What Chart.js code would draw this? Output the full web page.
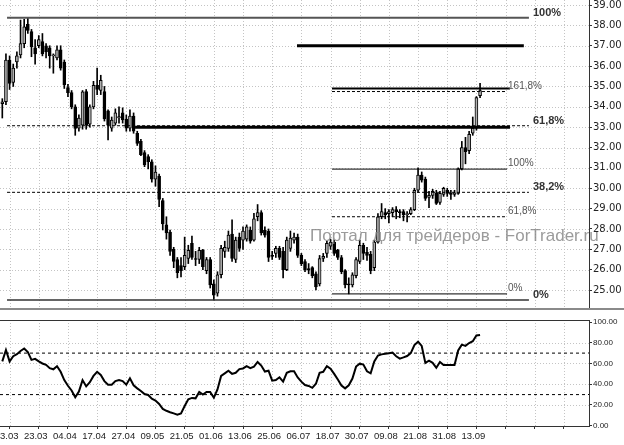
<!DOCTYPE html>
<html><head><meta charset="utf-8">
<script src="https://cdn.jsdelivr.net/npm/chart.js@4/dist/chart.umd.min.js"></script>
<style>
html,body{margin:0;padding:0;background:#fff;}
#wrap{position:relative;width:624px;height:445px;overflow:hidden;background:#fff;}
canvas{position:absolute;left:0;display:block;}
#c1{top:0;}
#c2{top:310px;}
</style></head><body>
<div id="wrap"><canvas id="c1" width="624" height="310"></canvas><canvas id="c2" width="624" height="135"></canvas></div>
<script>
// ---------- DATA ----------
const openP = [
34.15,34.25,36.30,35.20,36.20,36.55,37.10,38.05,37.70,36.90,
37.00,37.20,37.00,36.90,36.50,36.40,36.80,36.20,34.95,34.70,
34.00,32.95,33.10,34.75,33.15,34.00,35.05,34.80,34.75,33.80,
32.95,33.20,33.45,33.70,33.40,32.95,33.55,32.70,32.30,31.75,
31.55,31.30,30.45,30.60,29.40,28.20,27.85,27.00,26.50,26.20,
26.15,26.55,27.30,26.55,26.50,26.95,25.95,26.50,25.30,24.85,
25.75,26.90,27.05,27.75,26.50,27.60,27.45,27.50,27.95,27.45,
28.60,28.80,27.95,27.90,26.70,26.80,27.05,26.90,26.00,27.05,
27.45,27.60,26.70,26.40,26.05,26.10,25.80,25.30,26.55,26.80,
27.15,27.35,26.95,26.60,25.95,25.30,25.25,25.70,26.40,27.20,
26.85,26.75,26.10,27.35,28.60,28.80,28.75,28.80,28.95,28.85,
28.85,28.70,28.75,28.95,29.90,30.65,30.45,29.55,29.65,29.75,
29.30,29.70,29.90,29.75,29.70,29.75,30.95,32.00,31.85,32.70,
32.95,34.55];
const highP = [
34.40,36.60,36.50,36.10,36.70,38.26,38.30,38.37,37.80,37.30,
37.50,37.60,37.10,37.00,36.60,37.00,37.00,36.30,35.10,34.80,
34.10,33.60,34.80,34.85,34.10,35.25,35.90,35.55,35.00,33.85,
33.50,33.90,34.00,33.95,33.60,33.85,33.70,32.80,32.40,31.85,
31.65,31.40,31.10,30.70,29.50,28.60,27.95,27.10,26.60,26.60,
27.60,27.20,27.65,26.90,27.10,27.00,26.60,26.60,25.50,25.90,
27.20,27.40,27.90,28.45,27.60,27.80,28.10,28.20,28.10,28.77,
29.20,28.90,28.10,28.00,26.90,27.15,27.15,27.10,27.60,27.90,
27.80,27.75,26.80,26.50,26.30,26.15,25.90,26.70,26.80,27.40,
27.50,27.45,27.00,26.70,26.00,25.60,25.85,26.60,27.45,27.30,
27.10,26.90,27.45,28.75,29.25,29.00,28.95,29.05,29.10,28.95,
28.95,28.85,29.05,30.00,31.00,30.80,30.55,29.85,29.95,29.90,
29.85,30.05,30.00,29.90,29.90,31.00,32.30,32.50,32.80,33.50,
34.50,35.15];
const lowP = [
33.45,34.10,34.85,35.00,35.90,36.40,36.90,37.60,36.46,36.10,
36.90,36.50,36.40,35.90,35.65,36.30,35.80,34.90,34.50,33.90,
32.60,32.80,32.90,32.90,33.00,33.90,34.60,34.60,33.30,32.37,
32.80,33.10,33.20,33.20,32.80,32.80,32.70,32.10,31.60,31.06,
30.95,30.30,30.10,29.10,27.95,27.50,26.70,26.10,25.60,25.65,
26.00,26.30,26.50,26.20,26.30,26.00,25.80,25.10,24.51,24.70,
25.60,26.60,26.90,26.40,26.35,26.90,27.00,27.40,27.30,27.40,
28.40,27.70,27.60,26.40,26.50,26.60,26.50,25.60,25.95,26.90,
27.30,26.60,26.20,25.90,25.80,25.60,25.00,25.20,26.40,26.60,
27.00,26.70,26.50,25.80,25.10,24.81,25.15,25.60,26.30,26.50,
26.45,25.80,25.95,27.30,28.50,28.50,28.30,28.60,28.50,28.55,
28.40,28.35,28.70,28.90,29.80,30.30,29.40,29.05,29.50,29.20,
29.20,29.60,29.60,29.45,29.60,29.70,30.90,31.20,31.70,32.60,
32.85,34.45];
const closeP = [
34.25,36.30,35.15,35.90,36.50,37.10,37.93,37.75,36.95,36.60,
37.30,36.60,36.70,36.50,36.55,36.80,35.90,35.07,34.70,34.00,
32.94,33.45,34.74,33.10,34.00,35.05,34.85,35.30,33.40,33.10,
33.35,33.70,33.52,33.35,32.95,33.55,32.80,32.20,31.65,31.15,
31.30,30.45,30.80,29.45,28.25,27.80,26.90,26.40,25.85,25.95,
26.70,26.95,26.60,26.50,26.95,26.15,26.50,25.25,24.75,25.75,
27.05,27.10,27.70,26.55,27.45,27.05,27.90,28.10,27.40,28.50,
28.80,27.80,27.70,26.60,26.65,27.05,26.60,26.00,27.45,27.55,
27.60,26.70,26.30,26.00,25.98,25.70,25.15,26.55,26.65,27.30,
27.35,26.80,26.60,25.90,25.25,25.25,25.75,26.50,27.20,26.80,
26.70,25.95,27.35,28.60,28.85,28.70,28.85,28.95,28.85,28.80,
28.70,28.75,28.95,29.90,30.65,30.40,29.50,29.65,29.85,29.25,
29.75,30.00,29.75,29.70,29.78,30.95,32.00,31.80,32.65,32.95,
34.45,34.80];
const rsiVals = [
62,73,62,67,69,72,74.5,71,63.5,64.5,
62,60,58.7,55.5,54.4,57.3,52,44,38.5,34,
27.5,33,44,38,42,48,52,49,43,39.5,
39.5,43,44,43,39.5,45.7,39,36,33.5,30.5,
29.6,26,24.3,21,16.2,14.4,13,11.9,10.6,11.8,
19,25.5,26.8,26.4,32.5,30,32.5,32.5,27,35,
48,50.5,53,50,51,54.6,55.2,57.5,55.5,57,
61.5,58,52.2,53,43.4,44,46.7,42.5,51,52.5,
52.5,46.5,42.5,39.2,38.3,36.5,40.5,51,52,57.5,
55,50,44.5,38.8,36,39,45.5,57,59.8,59,
52.5,50.5,62,67.7,68.8,69.3,69.9,70.5,67,64.7,
65.9,67.2,70,77.8,81,76.9,60.6,62.7,60.6,55.9,
61.5,58.5,58.5,58.5,58.5,72.5,78.2,77,79.7,81.5,
87,87.5];
const dateLabels = ['13.03','23.03','04.04','17.04','27.04','09.05','21.05','01.06','13.06','25.06','06.07','18.07','30.07','09.08','21.08','31.08','13.09'];
const priceTicks = [25,26,27,28,29,30,31,32,33,34,35,36,37,38,39];
const rsiTicks = [0,20,40,60,80,100];
const rsiLevels = [70,30];
const bigFibLevels = [38.37,33.07,29.80,24.51];
const bigFibNames = ['100%','61,8%','38,2%','0%'];
const bigFibSpan = [1.3,144.4];
const smallFibLevels = [34.75,30.94,28.60,24.81];
const smallFibNames = ['161,8%','100%','61,8%','0%'];
const smallFibSpan = [90.4,138.4];
const hLevels = [37.00,34.90,33.00];
const hSpans = [[80.8,143.0],[90.4,139.2],[36.4,139.2]];
const watermark = 'Портал для трейдеров - ForTrader.ru';

// ---------- SCALE SETTINGS ----------
const X_MIN = -0.631, X_MAX = 160.87;
const TICK_START = 2, TICK_STEP = 8;
const P_MIN = 24.118, P_MAX = 39.246;
const R_MIN = -0.29, R_MAX = 101.93;

const BULL = '#b0b0b0', BEAR = '#000000';
const bigFibStyles = [
  {c:'#555', w:2, d:[]}, {c:'#000', w:1, d:[3,2]}, {c:'#000', w:1, d:[3,2]}, {c:'#333', w:1.5, d:[]}];
const smallFibStyles = [
  {c:'#000', w:1, d:[3,2]}, {c:'#000', w:1, d:[]}, {c:'#000', w:1, d:[3,2]}, {c:'#000', w:1, d:[]}];
const hStyles = [{c:'#000', w:3}, {c:'#000', w:2}, {c:'#000', w:3}];

function xTickValues(){ const t=[]; for(let v=TICK_START; v<=X_MAX; v+=TICK_STEP) t.push(v); return t; }

function seg(a,b,lv,st,ord){
  return {type:'line', data:[{x:a,y:lv},{x:b,y:lv}], borderColor:st.c, borderWidth:st.w,
    borderDash:st.d||[], pointRadius:0, tension:0, order:ord, clip:false};
}

const lineSets = [];
bigFibLevels.forEach((lv,i)=>lineSets.push(seg(bigFibSpan[0],bigFibSpan[1],lv,bigFibStyles[i],0)));
smallFibLevels.forEach((lv,i)=>lineSets.push(seg(smallFibSpan[0],smallFibSpan[1],lv,smallFibStyles[i],0)));
hLevels.forEach((lv,i)=>lineSets.push(seg(hSpans[i][0],hSpans[i][1],lv,hStyles[i],0)));

const bodyData = openP.map((o,i)=>({x:i, y:[o, closeP[i]]}));
const wickData = highP.map((h,i)=>({x:i, y:[lowP[i], h]}));
const bodyColors = openP.map((o,i)=> closeP[i] >= o ? BULL : BEAR);

Chart.defaults.font.family = '"Liberation Sans", Arial, sans-serif';

function drawGrid(chart, yVals){
  const {ctx, chartArea:a, scales:{x,y}} = chart;
  ctx.save();
  ctx.strokeStyle = '#c4c4c4'; ctx.lineWidth = 1; ctx.setLineDash([1,2]);
  ctx.beginPath();
  yVals.forEach(v=>{ const py = Math.round(y.getPixelForValue(v))+0.5; ctx.moveTo(a.left,py); ctx.lineTo(a.right,py); });
  xTickValues().forEach(v=>{ const px = Math.round(x.getPixelForValue(v))+0.5; ctx.moveTo(px,a.top); ctx.lineTo(px,a.bottom); });
  ctx.stroke();
  ctx.restore();
}

const mainPlugin = {
  id:'mainDeco',
  beforeDatasetsDraw(chart){ drawGrid(chart, priceTicks); },
  afterDatasetsDraw(chart){
    const {ctx, scales:{x,y}} = chart;
    ctx.save();
    ctx.textBaseline = 'alphabetic'; ctx.textAlign = 'left';
    ctx.font = 'bold 11px "Liberation Sans"'; ctx.fillStyle = '#333';
    bigFibLevels.forEach((lv,i)=>ctx.fillText(bigFibNames[i], x.getPixelForValue(bigFibSpan[1])+4, y.getPixelForValue(lv)-2));
    ctx.font = '10px "Liberation Sans"'; ctx.fillStyle = '#555';
    smallFibLevels.forEach((lv,i)=>ctx.fillText(smallFibNames[i], x.getPixelForValue(smallFibSpan[1])+1, y.getPixelForValue(lv)-3));
    ctx.restore();
  },
  afterDraw(chart){
    const {ctx, chartArea:a} = chart;
    ctx.save();
    ctx.strokeStyle = '#8a8a8a'; ctx.lineWidth = 2;
    ctx.beginPath(); ctx.moveTo(0, a.bottom+1); ctx.lineTo(chart.width, a.bottom+1); ctx.stroke();
    ctx.font = '17px "Liberation Sans"'; ctx.fillStyle = 'rgba(130,130,130,0.8)';
    ctx.textBaseline = 'middle'; ctx.textAlign = 'left';
    ctx.fillText(watermark, 310, 236);
    ctx.restore();
  }
};

const rsiPlugin = {
  id:'rsiDeco',
  beforeDatasetsDraw(chart){ drawGrid(chart, [20,40,60,80]); },
  afterDraw(chart){
    const {ctx, chartArea:a} = chart;
    ctx.save();
    ctx.strokeStyle = '#333'; ctx.lineWidth = 1;
    ctx.beginPath(); ctx.moveTo(0, a.top+0.5); ctx.lineTo(a.right, a.top+0.5); ctx.stroke();
    ctx.restore();
  }
};

const common = {
  responsive:false, animation:false, devicePixelRatio:1, events:[],
  plugins:{legend:{display:false}, tooltip:{enabled:false}}
};

function rightAxis(min, max, vals, fontSpec){
  return {
    type:'linear', position:'right', min, max,
    afterBuildTicks: s => { s.ticks = vals.map(v=>({value:v})); },
    afterFit: s => { s.width = 35; s.paddingTop = 0; s.paddingBottom = 0; },
    ticks:{ autoSkip:false, callback: v => Number(v).toFixed(2), font:fontSpec, color:'#222', padding:1 },
    grid:{ drawOnChartArea:false, drawTicks:true, tickLength:3, tickColor:'#333' },
    border:{ display:true, color:'#333', width:1 }
  };
}

new Chart(document.getElementById('c1'), {
  type:'bar',
  data:{ datasets:[
    ...lineSets,
    {type:'bar', data:bodyData, backgroundColor:bodyColors, borderColor:'#000', borderWidth:1, borderSkipped:false,
      grouped:false, maxBarThickness:3, barPercentage:1, categoryPercentage:1, order:1},
    {type:'bar', data:wickData, backgroundColor:'#000', borderWidth:0,
      grouped:false, maxBarThickness:1, barPercentage:1, categoryPercentage:1, order:2}
  ]},
  options:{ ...common,
    layout:{padding:{left:0,right:0,top:0,bottom:2}},
    scales:{
      x:{type:'linear', min:X_MIN, max:X_MAX, offset:false, display:false},
      y:rightAxis(P_MIN, P_MAX, priceTicks, {family:'"DejaVu Sans"', size:10})
    }
  },
  plugins:[mainPlugin]
});

new Chart(document.getElementById('c2'), {
  type:'line',
  data:{ datasets:[
    {data:rsiVals.map((v,i)=>({x:i,y:v})), borderColor:'#000', borderWidth:2, pointRadius:0, tension:0, order:0},
    ...rsiLevels.map(l=>({data:[{x:X_MIN,y:l},{x:X_MAX,y:l}], borderColor:'#000', borderWidth:1, borderDash:[3,3], pointRadius:0, order:1}))
  ]},
  options:{ ...common,
    layout:{padding:{left:0,right:0,top:10,bottom:0}},
    scales:{
      x:{type:'linear', min:X_MIN, max:X_MAX, offset:false, position:'bottom',
        afterBuildTicks: s => { s.ticks = xTickValues().map(v=>({value:v})); },
        afterFit: s => { s.height = 19; s.paddingLeft = 0; s.paddingRight = 0; },
        ticks:{ autoSkip:false, maxRotation:0, minRotation:0, labelOffset:-3, padding:2,
          callback:(v,i)=> dateLabels[i] || '', font:{family:'"Liberation Sans"', size:9.5}, color:'#222' },
        grid:{ drawOnChartArea:false, drawTicks:true, tickLength:3, tickColor:'#333' },
        border:{ display:true, color:'#333', width:1 }
      },
      y:rightAxis(R_MIN, R_MAX, rsiTicks, {family:'"Liberation Sans"', size:8})
    }
  },
  plugins:[rsiPlugin]
});
</script>
</body></html>
